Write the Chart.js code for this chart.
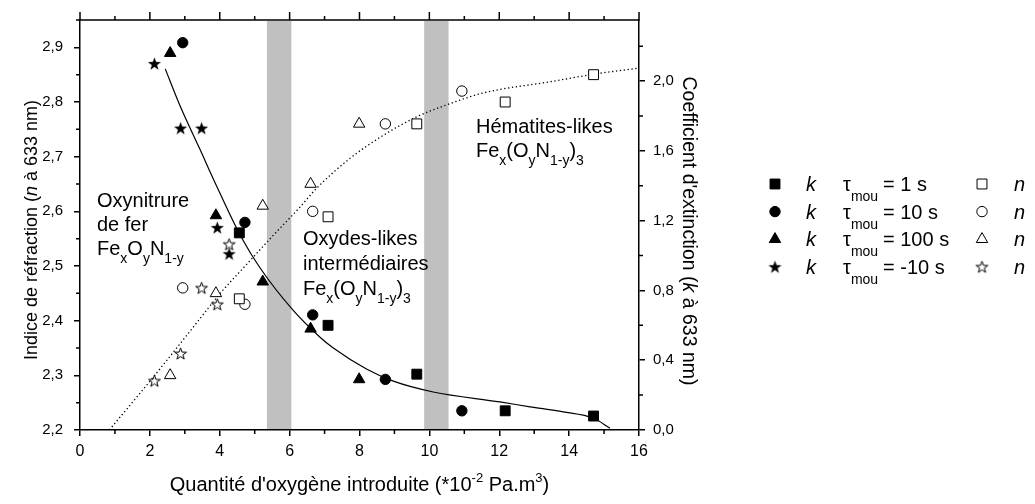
<!DOCTYPE html>
<html>
<head>
<meta charset="utf-8">
<script src="https://cdn.jsdelivr.net/npm/chart.js@4/dist/chart.umd.min.js"></script>
<style>html,body{margin:0;padding:0;background:#fff}</style>
</head>
<body>
<canvas id="chart" width="1035" height="504"></canvas>
<script>
// tick labels
const xTicks = [0, 2, 4, 6, 8, 10, 12, 14, 16];
const nTicks = [2.2, 2.3, 2.4, 2.5, 2.6, 2.7, 2.8, 2.9];
const kTicks = [0.0, 0.4, 0.8, 1.2, 1.6, 2.0];

// measured points: oxygen quantity, k (extinction) and n (refraction)
const oxy1 = [4.56, 7.10, 9.64, 12.17, 14.70];
const k1 = [1.13, 0.60, 0.32, 0.11, 0.08];
const n1 = [2.44, 2.59, 2.76, 2.80, 2.85];

const oxy10 = [2.94, 4.72, 6.66, 8.74, 10.93];
const k10 = [2.22, 1.19, 0.66, 0.29, 0.11];
const n10 = [2.46, 2.43, 2.60, 2.76, 2.82];

const oxy100 = [2.58, 3.89, 5.23, 6.60, 7.99];
const k100 = [2.16, 1.23, 0.85, 0.58, 0.29];
const n100 = [2.30, 2.45, 2.61, 2.65, 2.76];

const oxyM10 = [2.13, 2.88, 3.48, 3.93, 4.27];
const kM10 = [2.10, 1.73, 1.73, 1.16, 1.01];
const nM10 = [2.29, 2.34, 2.46, 2.43, 2.54];

// fitted curves
const fitKX = [2.44, 2.86, 3.43, 3.93, 4.63, 5.15, 6.11, 6.87, 7.25, 8.2, 8.97, 10.11, 12.02, 12.88, 13.83, 14.70, 15.17];
const fitK = [2.07, 1.86, 1.61, 1.39, 1.10, 0.93, 0.684, 0.532, 0.47, 0.35, 0.28, 0.218, 0.161, 0.133, 0.104, 0.067, 0.01];
const fitNX = [0.84, 2.10, 3.24, 4.00, 4.77, 5.53, 6.30, 6.77, 7.73, 8.68, 9.64, 10.59, 11.45, 12.02, 13.36, 14.72, 16.0];
const fitN = [2.20, 2.297, 2.388, 2.449, 2.503, 2.556, 2.608, 2.642, 2.697, 2.739, 2.773, 2.797, 2.815, 2.823, 2.836, 2.851, 2.862];

// shaded transition zones (oxygen quantity)
const bandRanges = [[5.35, 6.05], [9.85, 10.55]];

const FONT = "'Liberation Sans', Arial, sans-serif";
const reg = s => s + "px " + FONT;
const ital = s => "italic " + s + "px " + FONT;

function pts(xs, ys) { return xs.map((v, i) => ({x: v, y: ys[i]})); }

function starImg(filled, r) {
  const c = document.createElement("canvas");
  c.width = 17; c.height = 17;
  const g = c.getContext("2d");
  g.beginPath();
  for (let i = 0; i < 10; i++) {
    const rr = i % 2 ? r * 0.4 : r;
    const a = -Math.PI / 2 + i * Math.PI / 5;
    g.lineTo(8.5 + rr * Math.cos(a), 9.1 + rr * Math.sin(a));
  }
  g.closePath();
  if (filled) { g.fillStyle = "#000"; g.fill(); }
  else { g.fillStyle = "#fff"; g.fill(); g.lineWidth = 1; g.strokeStyle = "#000"; g.stroke(); }
  return c;
}
const starFull = starImg(true, 6.9);
const starEmpty = starImg(false, 6.2);

const styles = [
  {k: "rect", n: "rect", r: 7},
  {k: "circle", n: "circle", r: 5.2},
  {k: "triangle", n: "triangle", r: 6.6},
  {k: starFull, n: starEmpty, r: 6}
];
const legendLabels = ["= 1 s", "= 10 s", "= 100 s", "= -10 s"];

function kSet(data, st) {
  return {data, yAxisID: "yK", pointStyle: st.k, pointRadius: st.r,
    backgroundColor: "#000", borderColor: "#000", borderWidth: 1};
}
function nSet(data, st) {
  return {data, yAxisID: "y", pointStyle: st.n, pointRadius: st.r,
    backgroundColor: "#fff", borderColor: "#000", borderWidth: 1};
}

function richWidth(ctx, parts) {
  let w = 0;
  for (const p of parts) { ctx.font = p.f; w += ctx.measureText(p.t).width; }
  return w;
}
function drawRich(ctx, parts, x, y) {
  for (const p of parts) {
    ctx.font = p.f;
    ctx.fillText(p.t, x, y + (p.dy || 0));
    x += ctx.measureText(p.t).width;
  }
}
function formula(close) {
  const s = [{t: "Fe", f: reg(20)}, {t: "x", f: reg(14), dy: 8}];
  if (close) {
    s.push({t: "(O", f: reg(20)}, {t: "y", f: reg(14), dy: 8}, {t: "N", f: reg(20)},
      {t: "1-y", f: reg(14), dy: 8}, {t: ")", f: reg(20)}, {t: "3", f: reg(14), dy: 8});
  } else {
    s.push({t: "O", f: reg(20)}, {t: "y", f: reg(14), dy: 8}, {t: "N", f: reg(20)},
      {t: "1-y", f: reg(14), dy: 8});
  }
  return s;
}

const decor = {
  id: "decor",
  beforeDatasetsDraw(chart) {
    const {ctx, chartArea: a, scales: {x}} = chart;
    ctx.save();
    ctx.fillStyle = "#c0c0c0";
    for (const [b0, b1] of bandRanges) {
      const p0 = x.getPixelForValue(b0), p1 = x.getPixelForValue(b1);
      ctx.fillRect(p0, a.top + 1, p1 - p0, a.bottom - a.top - 2);
    }
    ctx.restore();
  },
  afterDraw(chart) {
    const {ctx, chartArea: a, scales: {x, y, yK}} = chart;
    ctx.save();
    ctx.strokeStyle = "#000";
    ctx.lineWidth = 1.5;
    ctx.beginPath();
    ctx.moveTo(a.left - 0.75, a.top); ctx.lineTo(a.right + 0.75, a.top);
    // top ticks and minor ticks
    for (let v = 0; v <= 16; v++) {
      const px = x.getPixelForValue(v);
      ctx.moveTo(px, a.top); ctx.lineTo(px, a.top - (v % 2 ? 4 : 8));
      if (v % 2) { ctx.moveTo(px, a.bottom); ctx.lineTo(px, a.bottom + 4); }
    }
    for (let i = 0; i < nTicks.length; i++) {
      const py = y.getPixelForValue(nTicks[i] + 0.05);
      ctx.moveTo(a.left, py); ctx.lineTo(a.left - 4, py);
    }
    for (let i = 0; i < kTicks.length; i++) {
      const py = yK.getPixelForValue(kTicks[i] + 0.2);
      ctx.moveTo(a.right, py); ctx.lineTo(a.right + 4, py);
    }
    ctx.stroke();

    ctx.fillStyle = "#000";
    ctx.textBaseline = "alphabetic";
    ctx.textAlign = "left";
    // annotations
    ctx.font = reg(20);
    ctx.fillText("Oxynitrure", 97, 207);
    ctx.fillText("de fer", 97, 231);
    drawRich(ctx, formula(false), 97, 255);
    ctx.font = reg(20);
    ctx.fillText("Oxydes-likes", 303, 245);
    ctx.fillText("intermédiaires", 303, 270);
    drawRich(ctx, formula(true), 303, 295);
    ctx.font = reg(20);
    ctx.fillText("Hématites-likes", 476, 133);
    drawRich(ctx, formula(true), 476, 157);

    // axis titles
    const xt = [{t: "Quantité d'oxygène introduite (*10", f: reg(20)}, {t: "-2", f: reg(13), dy: -9},
      {t: " Pa.m", f: reg(20)}, {t: "3", f: reg(13), dy: -9}, {t: ")", f: reg(20)}];
    const cx = (a.left + a.right) / 2;
    drawRich(ctx, xt, cx - richWidth(ctx, xt) / 2, 491);

    const lt = [{t: "Indice de réfraction (", f: reg(18)}, {t: "n", f: ital(18)}, {t: " à 633 nm)", f: reg(18)}];
    ctx.save();
    ctx.translate(32, (a.top + a.bottom) / 2 + 5);
    ctx.rotate(-Math.PI / 2);
    ctx.textBaseline = "middle";
    drawRich(ctx, lt, -richWidth(ctx, lt) / 2, 0);
    ctx.restore();

    const rt = [{t: "Coefficient d'extinction (", f: reg(19.5)}, {t: "k", f: ital(19.5)}, {t: " à 633 nm)", f: reg(19.5)}];
    ctx.save();
    ctx.translate(688, (a.top + a.bottom) / 2 + 6);
    ctx.rotate(Math.PI / 2);
    ctx.textBaseline = "middle";
    drawRich(ctx, rt, -richWidth(ctx, rt) / 2, 0);
    ctx.restore();

    // legend
    for (let i = 0; i < styles.length; i++) {
      const cy = 184 + i * 27.6;
      const st = styles[i];
      ctx.fillStyle = "#000"; ctx.strokeStyle = "#000"; ctx.lineWidth = 1;
      Chart.helpers.drawPoint(ctx, {pointStyle: st.k, radius: st.r, rotation: 0, borderWidth: 1}, 775, cy);
      ctx.fillStyle = "#fff";
      Chart.helpers.drawPoint(ctx, {pointStyle: st.n, radius: st.r, rotation: 0, borderWidth: 1}, 982, cy);
      ctx.fillStyle = "#000";
      ctx.font = ital(20);
      ctx.fillText("k", 806, cy + 7);
      ctx.fillText("n", 1014, cy + 7);
      drawRich(ctx, [{t: "τ", f: reg(20)}, {t: "mou", f: reg(14), dy: 10}], 843, cy + 7);
      ctx.font = reg(20);
      ctx.fillText(legendLabels[i], 883, cy + 7);
    }
    ctx.restore();
  }
};

const axisCommon = {
  grid: {drawOnChartArea: false, drawTicks: true, tickLength: 6, color: "#000", lineWidth: 1.5},
  border: {display: true, color: "#000", width: 1.5}
};

new Chart(document.getElementById("chart"), {
  type: "scatter",
  data: {
    datasets: [
      kSet(pts(oxy1, k1), styles[0]),
      kSet(pts(oxy10, k10), styles[1]),
      kSet(pts(oxy100, k100), styles[2]),
      kSet(pts(oxyM10, kM10), styles[3]),
      nSet(pts(oxy1, n1), styles[0]),
      nSet(pts(oxy10, n10), styles[1]),
      nSet(pts(oxy100, n100), styles[2]),
      nSet(pts(oxyM10, nM10), styles[3]),
      {data: pts(fitKX, fitK), yAxisID: "yK", showLine: true, pointRadius: 0,
        borderColor: "#000", borderWidth: 1.2, cubicInterpolationMode: "monotone", fill: false},
      {data: pts(fitNX, fitN), yAxisID: "y", showLine: true, pointRadius: 0,
        borderColor: "#000", borderWidth: 1.3, borderDash: [1.3, 2.6], cubicInterpolationMode: "monotone", fill: false}
    ]
  },
  options: {
    responsive: false,
    animation: false,
    devicePixelRatio: 1,
    layout: {padding: 0},
    plugins: {legend: {display: false}, tooltip: {enabled: false}},
    scales: {
      x: {
        type: "linear", position: "bottom", min: 0, max: 16,
        afterBuildTicks: s => { s.ticks = xTicks.map(v => ({value: v})); },
        afterFit: s => { s.height = 74; },
        ticks: {color: "#000", font: {family: FONT, size: 16}, padding: 6, maxRotation: 0, autoSkip: false},
        ...axisCommon
      },
      y: {
        type: "linear", position: "left", min: 2.2, max: 2.95,
        afterBuildTicks: s => { s.ticks = nTicks.map(v => ({value: v})); },
        afterFit: s => { s.width = 80; },
        ticks: {color: "#000", font: {family: FONT, size: 15}, padding: 11,
          callback: v => v.toFixed(1).replace(".", ",")},
        ...axisCommon
      },
      yK: {
        type: "linear", position: "right", min: 0, max: 2.35,
        afterBuildTicks: s => { s.ticks = kTicks.map(v => ({value: v})); },
        afterFit: s => { s.width = 396; },
        ticks: {color: "#000", font: {family: FONT, size: 15}, padding: 8,
          callback: v => v.toFixed(1).replace(".", ",")},
        ...axisCommon
      }
    }
  },
  plugins: [decor]
});
</script>
</body>
</html>
